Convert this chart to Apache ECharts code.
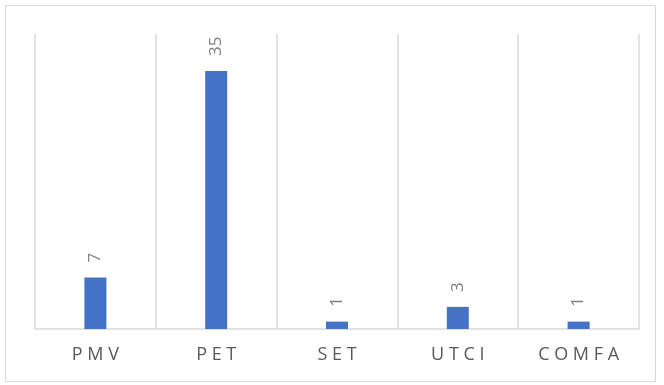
<!DOCTYPE html>
<html>
<head>
<meta charset="utf-8">
<script src="https://cdn.jsdelivr.net/npm/echarts@6/dist/echarts.min.js"></script>
<style>
html,body{margin:0;padding:0;background:#fff;}
#frame{position:absolute;left:5px;top:5px;width:651px;height:377px;border:1px solid #d9d9d9;box-sizing:border-box;}
#chart{position:absolute;left:0;top:0;width:664px;height:385px;}
</style>
</head>
<body>
<div id="frame"></div>
<div id="chart"></div>
<script>
const categories = ["PMV", "PET", "SET", "UTCI", "COMFA"];
const counts = [7, 35, 1, 3, 1];
const yMax = 40;

const chart = echarts.init(document.getElementById('chart'), null, {renderer: 'canvas'});
chart.setOption({
  animation: false,
  grid: {left: 35, right: 25, top: 34, bottom: 56},
  xAxis: {
    type: 'category',
    data: categories,
    boundaryGap: true,
    axisLine: {show: true, lineStyle: {color: '#d9d9d9', width: 1.5}},
    axisTick: {show: false},
    splitLine: {show: true, lineStyle: {color: '#d9d9d9', width: 1.5}},
    axisLabel: {
      color: '#595959',
      fontFamily: 'Open Sans',
      fontSize: 18,
      margin: 17,
      formatter: v => v.split('').join(' ')
    }
  },
  yAxis: {
    type: 'value',
    min: 0,
    max: yMax,
    show: false,
    splitLine: {show: false}
  },
  series: [{
    type: 'bar',
    data: counts,
    barWidth: 22,
    itemStyle: {color: '#4472C4'},
    label: {
      show: true,
      position: 'top',
      rotate: 90,
      align: 'left',
      verticalAlign: 'middle',
      distance: 15,
      color: '#7f7f7f',
      fontFamily: 'Open Sans',
      fontSize: 17
    }
  }]
});
</script>
</body>
</html>
